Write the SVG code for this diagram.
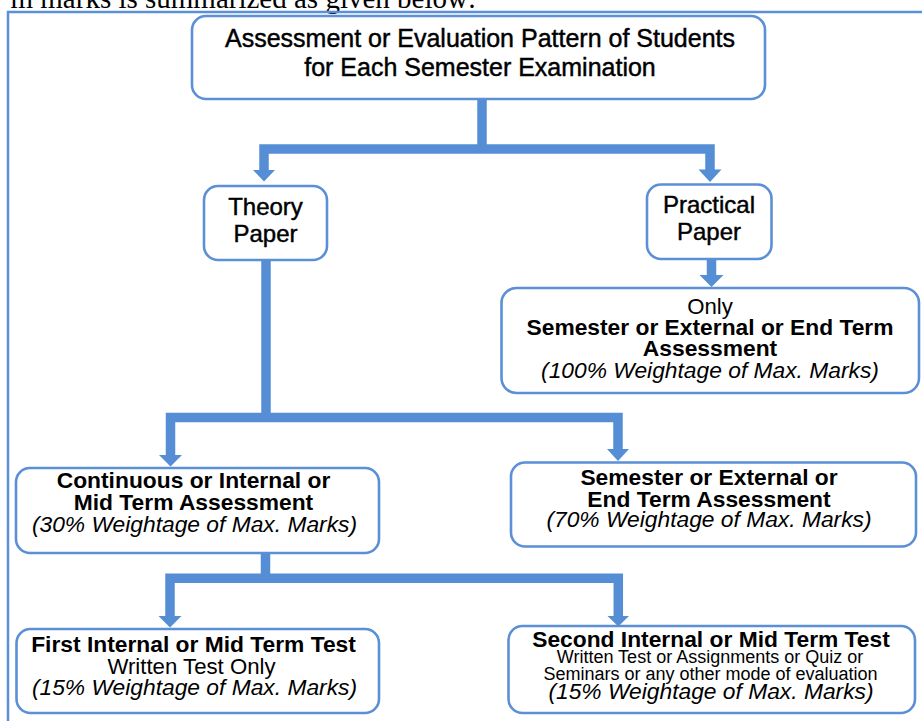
<svg xmlns="http://www.w3.org/2000/svg" width="922" height="721" viewBox="0 0 922 721">
<style>
.frame{fill:none;stroke:#5B8FD6;stroke-width:2.5}
.box{fill:#fff;stroke:#5B8FD6;stroke-width:2.6}
.wire{fill:none;stroke:#558ED5;stroke-width:9.5;stroke-linejoin:miter;stroke-linecap:butt}
.head{fill:#558ED5}
text{font-family:"Liberation Sans",Arial,sans-serif;fill:#000;text-anchor:middle}
.t25{font-size:25px;stroke:#000;stroke-width:0.45}
.t24{font-size:24px;stroke:#000;stroke-width:0.45}
.b{font-size:22.8px;font-weight:bold}
.i{font-size:22.8px;font-style:italic}
.r{font-size:22.2px}
.s{font-size:18px}
.cap{font-family:"Liberation Serif","Times New Roman",serif;font-size:29px;text-anchor:end}
</style>
<rect width="922" height="721" fill="#fff"/>
<text class="cap" x="476" y="8">m marks is summarized as given below:</text>
<rect class="frame" x="8" y="12" width="1000" height="800"/>
<g id="connectors">
  <path class="wire" d="M482,99 V149"/>
  <path class="wire" d="M264,170.5 V149 H710 V170"/>
  <polygon class="head" points="253,170 275,170 264,181.5"/>
  <polygon class="head" points="698.5,169.5 721.5,169.5 710,182"/>
  <path class="wire" d="M711.5,258 V275.5"/>
  <polygon class="head" points="699.5,275 723.5,275 711.5,287"/>
  <path class="wire" d="M266,260 V417.5"/>
  <path class="wire" d="M170.5,455.5 V417.5 H618 V449.5"/>
  <polygon class="head" points="159,455 182,455 170.5,466.5"/>
  <polygon class="head" points="607,449 629,449 618,461"/>
  <path class="wire" d="M265.5,553 V578.3"/>
  <path class="wire" d="M170,616.5 V578.3 H618.3 V616.5"/>
  <polygon class="head" points="158.5,616 181.5,616 170,627.5"/>
  <polygon class="head" points="607.5,616 629,616 618.3,626.5"/>
</g>
<g id="node-top">
  <rect class="box" x="192" y="16" width="573" height="83" rx="14"/>
  <text class="t25" x="480" y="47">Assessment or Evaluation Pattern of Students</text>
  <text class="t25" x="480" y="76">for Each Semester Examination</text>
</g>
<g id="node-theory">
  <rect class="box" x="204" y="186" width="123" height="74" rx="14"/>
  <text class="t24" x="265.5" y="215">Theory</text>
  <text class="t24" x="265.5" y="241.5">Paper</text>
</g>
<g id="node-practical">
  <rect class="box" x="647" y="184.5" width="124.5" height="74.5" rx="14"/>
  <text class="t24" x="709" y="213.3">Practical</text>
  <text class="t24" x="709" y="240">Paper</text>
</g>
<g id="node-practical-assessment">
  <rect class="box" x="501.5" y="288" width="417.5" height="105" rx="15"/>
  <text class="r" x="710" y="314">Only</text>
  <text class="b" x="710" y="335">Semester or External or End Term</text>
  <text class="b" x="710" y="356">Assessment</text>
  <text class="i" x="710" y="378">(100% Weightage of Max. Marks)</text>
</g>
<g id="node-continuous">
  <rect class="box" x="16" y="468" width="363" height="85" rx="14"/>
  <text class="b" x="193.5" y="488">Continuous or Internal or</text>
  <text class="b" x="193.5" y="510">Mid Term Assessment</text>
  <text class="i" x="194.5" y="532">(30% Weightage of Max. Marks)</text>
</g>
<g id="node-semester">
  <rect class="box" x="511" y="462.5" width="405" height="84" rx="14"/>
  <text class="b" x="709" y="485">Semester or External or</text>
  <text class="b" x="709" y="506.7">End Term Assessment</text>
  <text class="i" x="709" y="527">(70% Weightage of Max. Marks)</text>
</g>
<g id="node-first">
  <rect class="box" x="16.5" y="629" width="362.5" height="84" rx="14"/>
  <text class="b" x="193.5" y="651.7">First Internal or Mid Term Test</text>
  <text class="r" x="191.5" y="674">Written Test Only</text>
  <text class="i" x="194.5" y="695">(15% Weightage of Max. Marks)</text>
</g>
<g id="node-second">
  <rect class="box" x="508.5" y="626" width="406.5" height="87" rx="14"/>
  <text class="b" x="711" y="646.7">Second Internal or Mid Term Test</text>
  <text class="s" x="710" y="662.7">Written Test or Assignments or Quiz or</text>
  <text class="s" x="710.5" y="680">Seminars or any other mode of evaluation</text>
  <text class="i" x="711" y="699.3">(15% Weightage of Max. Marks)</text>
</g>
</svg>
